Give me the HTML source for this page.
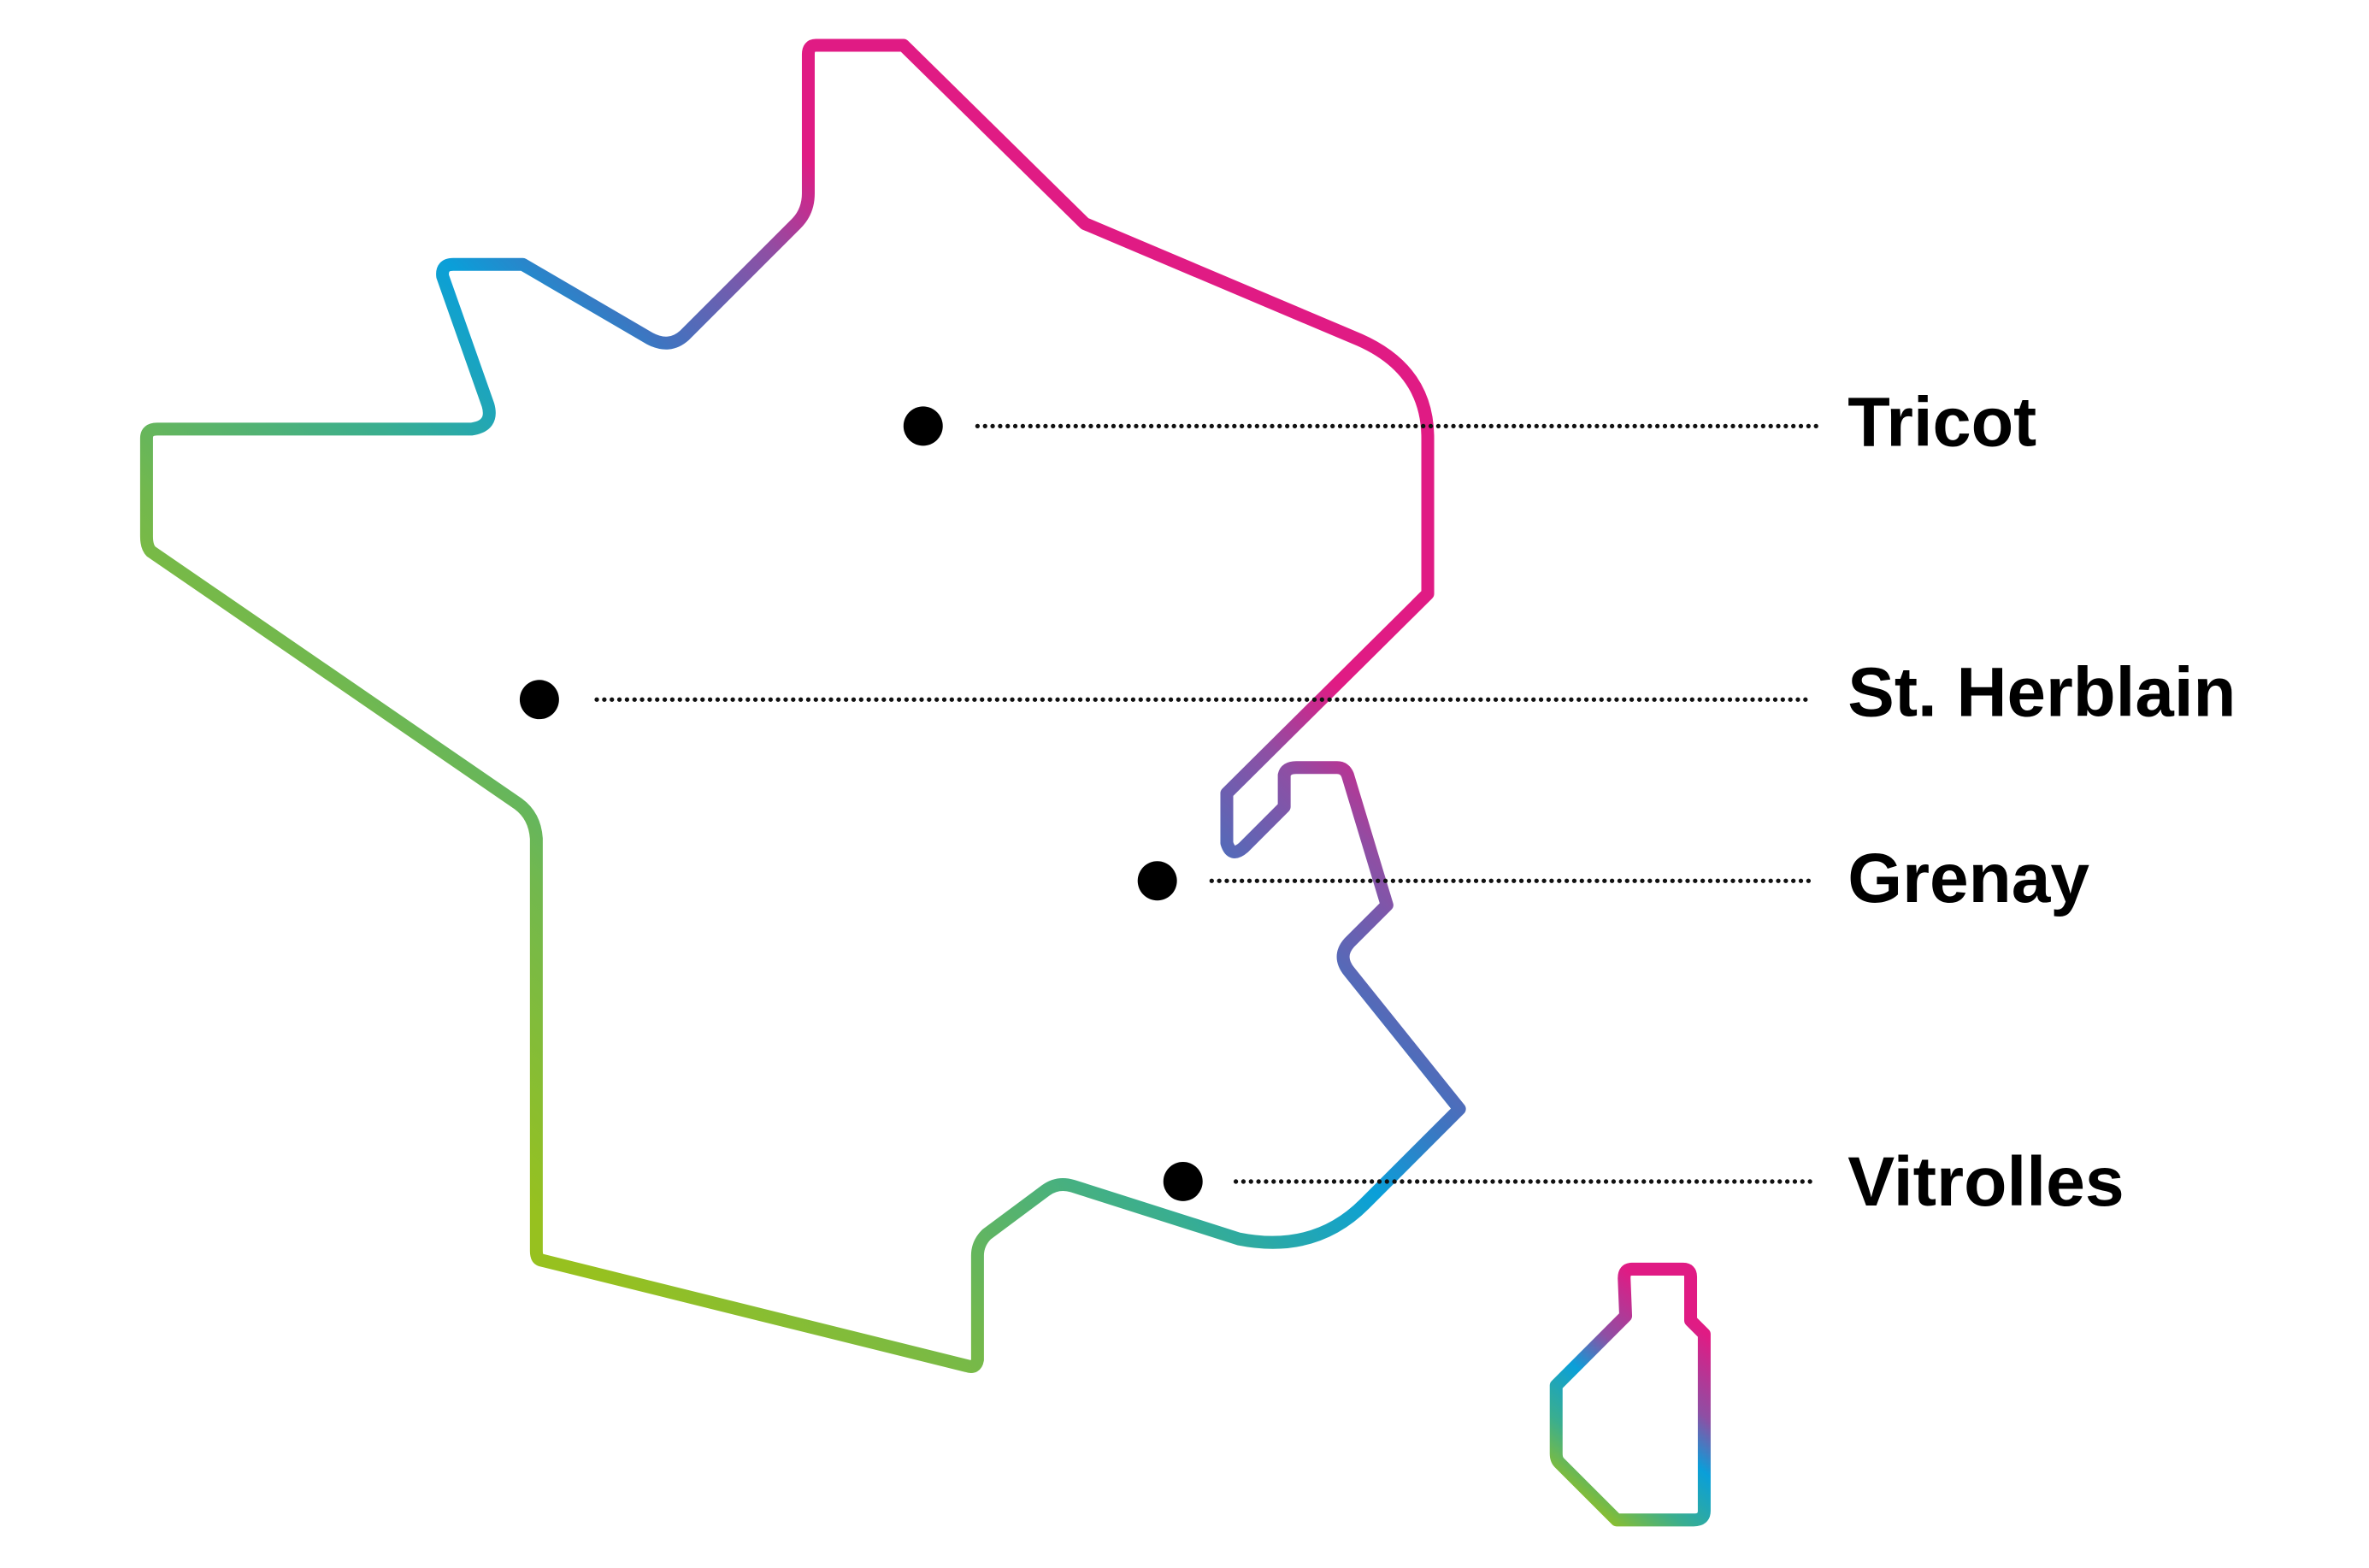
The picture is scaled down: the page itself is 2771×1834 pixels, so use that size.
<!DOCTYPE html>
<html><head><meta charset="utf-8"><style>
html,body{margin:0;padding:0;background:#fff;}
svg{display:block;}
</style></head><body>
<svg width="2771" height="1834" viewBox="0 0 1568 1037.8" preserveAspectRatio="none" xmlns="http://www.w3.org/2000/svg">
<defs>
<linearGradient id="g1" gradientUnits="userSpaceOnUse" x1="900" y1="250" x2="350" y2="800">
<stop offset="0" stop-color="#e01b84"/>
<stop offset="0.2" stop-color="#e01b84"/>
<stop offset="0.28" stop-color="#8e4fa4"/>
<stop offset="0.4" stop-color="#3f74c0"/>
<stop offset="0.48" stop-color="#0a9fd9"/>
<stop offset="0.62" stop-color="#3aae8f"/>
<stop offset="0.8" stop-color="#72b84e"/>
<stop offset="1" stop-color="#97c11f"/>
</linearGradient>
<linearGradient id="g2" gradientUnits="userSpaceOnUse" x1="1125" y1="880" x2="1035" y2="990">
<stop offset="0" stop-color="#e01b84"/>
<stop offset="0.3" stop-color="#8e4fa4"/>
<stop offset="0.5" stop-color="#0a9fd9"/>
<stop offset="0.75" stop-color="#3aae8f"/>
<stop offset="1" stop-color="#97c11f"/>
</linearGradient>
</defs>
<path fill="none" stroke="url(#g1)" stroke-width="8.5" stroke-linejoin="round" d="M540,30 L598,30 L718,148 L900,225 Q945,245 945,290 L945,393 L812,525 L812,558 Q815,568 823,561 L850,534 L850,513 Q851,508 858,508 L885,508 Q890,508 892,513 L918,599 L893,624 Q885,633 893,643 L966,734 L903,797 Q870,830 820,820 L710,785 Q700,782 692,788 L653,817 Q647,823 647,831 L647,900 Q646,906 640,904 L358,834 Q355,833 355,828 L355,555 Q354,540 343,532 L100,365 Q97,362 97,355 L97,290 Q97,284 104,284 L312,284 Q327,282 323,268 L293,183 Q292,175 300,175 L346,175 L430,224 Q443,231 453,222 L527,148 Q535,140 535,128 L535,36 Q535,30 540,30 Z"/>
<path fill="none" stroke="url(#g2)" stroke-width="8.5" stroke-linejoin="round" d="M1080,840 L1114,840 Q1119,840 1119,845 L1119,874 L1128,883 L1128,1000 Q1128,1006 1121,1006 L1070,1006 L1032,968 Q1030,966 1030,962 L1030,917 L1076,871 L1075,846 Q1075,840 1080,840 Z"/>
<g fill="#000">
<circle cx="611" cy="282" r="13"/>
<circle cx="357" cy="463" r="13"/>
<circle cx="766" cy="583" r="13"/>
<circle cx="783" cy="782" r="13"/>
</g>
<g stroke="#111" stroke-width="3" stroke-linecap="round" stroke-dasharray="0 5" fill="none">
<line x1="647" y1="282" x2="1205" y2="282"/>
<line x1="395" y1="463" x2="1198" y2="463"/>
<line x1="802" y1="583" x2="1200" y2="583"/>
<line x1="818" y1="782" x2="1200" y2="782"/>
</g>
<g font-family="'Liberation Sans', sans-serif" font-weight="bold" font-size="46" fill="#000">
<text x="1223" y="295" textLength="125" lengthAdjust="spacingAndGlyphs">Tricot</text>
<text x="1223" y="474" textLength="257" lengthAdjust="spacingAndGlyphs">St. Herblain</text>
<text x="1223" y="597" textLength="160" lengthAdjust="spacingAndGlyphs">Grenay</text>
<text x="1223" y="798" textLength="183" lengthAdjust="spacingAndGlyphs">Vitrolles</text>
</g>
</svg>
</body></html>
